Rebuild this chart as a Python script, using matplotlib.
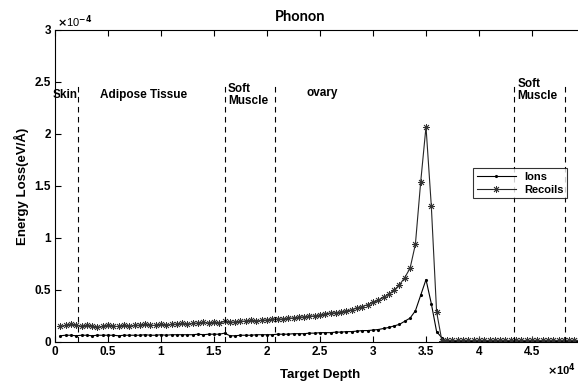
import matplotlib
matplotlib.use('Agg')
import matplotlib.pyplot as plt
import numpy as np

plt.rcParams['font.family'] = ['Liberation Sans', 'DejaVu Sans']
plt.rcParams['font.weight'] = 'bold'

# depth in units of 1e4, energy loss in units of 1e-4 eV/A
depth = np.round(np.arange(0.05, 5.0, 0.05), 2)

ions = [0.06, 0.065, 0.065, 0.06, 0.065, 0.065, 0.06, 0.065, 0.065, 0.065,
        0.065, 0.06, 0.065, 0.065, 0.065, 0.065, 0.07, 0.065, 0.065, 0.07,
        0.065, 0.07, 0.07, 0.07, 0.07, 0.07, 0.075, 0.07, 0.075, 0.075,
        0.075,
        0.085,
        0.06, 0.06, 0.065, 0.065, 0.065, 0.07, 0.07, 0.07, 0.07, 0.075,
        0.075, 0.075, 0.08, 0.08, 0.08, 0.085, 0.085, 0.09, 0.09, 0.09,
        0.095, 0.095, 0.10, 0.10, 0.105, 0.11, 0.11, 0.115, 0.12, 0.13,
        0.14, 0.155, 0.17, 0.20, 0.23, 0.30, 0.45, 0.60, 0.37, 0.10,
        0.04] + [0.005] * 26

recoils = [0.15, 0.16, 0.17, 0.16, 0.15, 0.16, 0.15, 0.14, 0.15, 0.16,
           0.15, 0.15, 0.16, 0.15, 0.16, 0.16, 0.17, 0.16, 0.16, 0.17,
           0.16, 0.17, 0.17, 0.18, 0.17, 0.18, 0.18, 0.19, 0.18, 0.19,
           0.18,
           0.20, 0.19, 0.19, 0.20, 0.20, 0.21, 0.20, 0.21, 0.21, 0.22,
           0.22, 0.22, 0.23, 0.23, 0.24, 0.24, 0.25, 0.25, 0.26, 0.27,
           0.28, 0.28, 0.29, 0.30, 0.31, 0.33, 0.34, 0.36, 0.38, 0.40,
           0.43, 0.46, 0.50, 0.55, 0.62, 0.71, 0.94, 1.54, 2.07, 1.31,
           0.29, 0.01] + [0.015] * 26

boundaries = [0.22, 1.6, 2.08, 4.33, 4.81]
regions = ['Skin', 'Adipose Tissue', 'Soft\nMuscle', 'ovary', 'Soft\nMuscle']
region_x = [-0.02, 0.42, 1.63, 2.37, 4.36]
region_y = [2.43, 2.43, 2.49, 2.45, 2.54]

fig = plt.figure(figsize=(5.78, 3.81), dpi=100)
ax = fig.add_axes([55 / 578, 39 / 381, 530 / 578, 312 / 381])

ax.plot(depth, ions, color='black', lw=0.8, marker='.', ms=2.5, label='Ions')
ax.plot(depth, recoils, color='0.15', lw=0.8, marker=(8, 2, 0), ms=5,
        mec='0.2', mew=0.6, label='Recoils')

ax.vlines(boundaries, 0, 2.5, colors='black', linestyles=(0, (5, 4)), lw=0.8)
for name, rx, ry in zip(regions, region_x, region_y):
    ax.text(rx, ry, name, fontsize=8.5, fontweight='bold', va='top', ha='left',
            linespacing=1.0, clip_on=False)

ax.set_xlim(0, 5)
ax.set_ylim(0, 3)
ax.set_xticks([0, 0.5, 1, 1.5, 2, 2.5, 3, 3.5, 4, 4.5])
ax.set_xticklabels(['0', '0.5', '1', '1.5', '2', '2.5', '3', '3.5', '4', '4.5'])
ax.set_yticks([0, 0.5, 1, 1.5, 2, 2.5, 3])
ax.set_yticklabels(['0', '0.5', '1', '1.5', '2', '2.5', '3'])
ax.tick_params(direction='in', length=4, width=0.8, labelsize=8.5,
               top=True, right=False, pad=3)
for s in ['left', 'bottom', 'top']:
    ax.spines[s].set_linewidth(0.8)
ax.spines['right'].set_visible(False)

ax.set_xlabel('Target Depth', fontsize=9.5, fontweight='bold', labelpad=3)
ax.set_ylabel('Energy Loss(eV/Å)', fontsize=9.5, fontweight='bold', labelpad=4)
ax.xaxis.set_label_coords((320 - 55) / 530, -0.085)

fig.text(300 / 578, 1 - 17 / 381, 'Phonon', fontsize=10.5, fontweight='bold',
         ha='center', va='center', family=['Lato', 'DejaVu Sans'])
fig.text(57 / 578, 1 - 27 / 381, r'$\times$10$^{-4}$', fontsize=8,
         fontweight='normal', ha='left', va='baseline')
fig.text(576 / 578, 0.008, r'$\times$10$^{4}$', fontsize=8,
         fontweight='bold', ha='right', va='bottom')

leg = ax.legend(loc='upper right', bbox_to_anchor=(0.977, 0.574), fontsize=8,
                frameon=True, fancybox=False, edgecolor='black',
                borderpad=0.3, handlelength=3.5, labelspacing=0.25)
leg.get_frame().set_linewidth(0.8)
for t in leg.get_texts():
    t.set_fontweight('bold')

fig.savefig('out.png', dpi=100)
